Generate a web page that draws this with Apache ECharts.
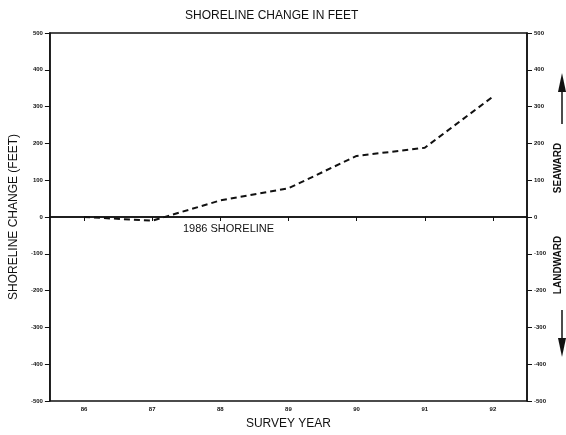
<!DOCTYPE html>
<html>
<head>
<meta charset="utf-8">
<script src="https://cdn.jsdelivr.net/npm/echarts@6/dist/echarts.min.js"></script>
<style>
  html, body { margin: 0; padding: 0; background: #fff; }
  #chart { width: 566px; height: 435px; }
</style>
</head>
<body>
<div id="chart"></div>
<script>
var years = ['86', '87', '88', '89', '90', '91', '92'];
var shorelineChange = [0, -10, 45, 78, 166, 188, 327];
var yMin = -500;
var yMax = 500;
var yStep = 100;

var FONT = 'Liberation Sans';
var INK = '#111';

var chart = echarts.init(document.getElementById('chart'));

function valueAxis(side) {
  return {
    type: 'value',
    position: side,
    min: yMin,
    max: yMax,
    interval: yStep,
    axisLine: { show: true, lineStyle: { color: INK, width: 1.5 } },
    axisTick: { show: true, inside: false, length: 5, lineStyle: { color: INK, width: 1 } },
    axisLabel: { color: INK, fontSize: 6, fontWeight: 'bold', fontFamily: FONT, margin: 7 },
    splitLine: { show: false }
  };
}

var option = {
  backgroundColor: '#fff',
  animation: false,
  title: {
    text: 'SHORELINE CHANGE IN FEET',
    left: 180,
    top: 5,
    textStyle: { color: INK, fontSize: 12, fontWeight: 'normal', fontFamily: FONT }
  },
  grid: {
    left: 47,
    right: 39,
    top: 33,
    bottom: 29,
    show: true,
    borderColor: INK,
    borderWidth: 1.5
  },
  xAxis: {
    type: 'category',
    data: years,
    boundaryGap: true,
    axisLine: { show: true, lineStyle: { color: INK, width: 1.5 } },
    axisTick: { show: true, alignWithLabel: true, length: 4, lineStyle: { color: INK } },
    axisLabel: { color: INK, fontSize: 6, fontWeight: 'bold', fontFamily: FONT, margin: 5 },
    name: 'SURVEY YEAR',
    nameLocation: 'middle',
    nameGap: 17,
    nameTextStyle: { color: INK, fontSize: 12, fontFamily: FONT }
  },
  yAxis: [
    Object.assign(valueAxis('left'), {
      name: 'SHORELINE CHANGE (FEET)',
      nameLocation: 'middle',
      nameGap: 29,
      nameTextStyle: { color: INK, fontSize: 12, fontFamily: FONT }
    }),
    valueAxis('right')
  ],
  series: [
    {
      type: 'line',
      data: shorelineChange,
      showSymbol: false,
      lineStyle: { color: INK, width: 2, type: [6, 4] },
      markLine: {
        silent: true,
        symbol: 'none',
        label: { show: false },
        lineStyle: { color: INK, width: 1.5, type: 'solid' },
        data: [{ yAxis: 0 }]
      }
    }
  ],
  graphic: [
    {
      type: 'text',
      left: 183,
      top: 223,
      style: { text: '1986 SHORELINE', fill: INK, fontSize: 11, fontFamily: FONT }
    },
    {
      type: 'text',
      x: 558,
      y: 168,
      rotation: Math.PI / 2,
      style: { text: 'SEAWARD', fill: INK, fontSize: 10, fontWeight: 'bold', fontFamily: FONT, align: 'center', verticalAlign: 'middle' }
    },
    {
      type: 'text',
      x: 558,
      y: 265,
      rotation: Math.PI / 2,
      style: { text: 'LANDWARD', fill: INK, fontSize: 10, fontWeight: 'bold', fontFamily: FONT, align: 'center', verticalAlign: 'middle' }
    },
    { type: 'line', shape: { x1: 562, y1: 90, x2: 562, y2: 124 }, style: { stroke: INK, lineWidth: 1.5 } },
    { type: 'polygon', shape: { points: [[558, 92], [566, 92], [562, 73]] }, style: { fill: INK } },
    { type: 'line', shape: { x1: 562, y1: 310, x2: 562, y2: 340 }, style: { stroke: INK, lineWidth: 1.5 } },
    { type: 'polygon', shape: { points: [[558, 338], [566, 338], [562, 357]] }, style: { fill: INK } }
  ]
};

chart.setOption(option);
</script>
</body>
</html>
